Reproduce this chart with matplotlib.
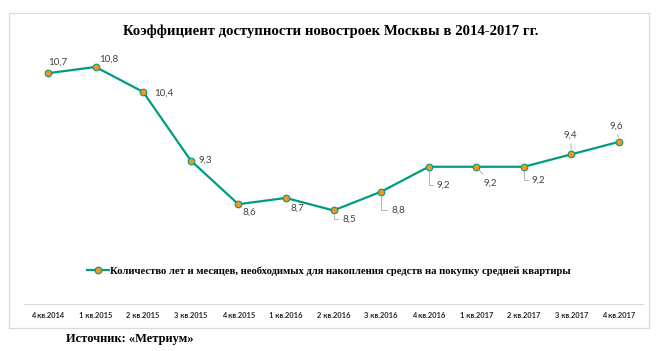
import matplotlib
matplotlib.use('Agg')
import matplotlib.pyplot as plt
from matplotlib.patches import Rectangle
from matplotlib.lines import Line2D

# данные
quarters = ['4 кв.2014', '1 кв.2015', '2 кв.2015', '3 кв.2015', '4 кв.2015',
            '1 кв.2016', '2 кв.2016', '3 кв.2016', '4 кв.2016', '1 кв.2017',
            '2 кв.2017', '3 кв.2017', '4 кв.2017']
values = [10.7, 10.8, 10.4, 9.3, 8.6, 8.7, 8.5, 8.8, 9.2, 9.2, 9.2, 9.4, 9.6]
title = 'Коэффициент доступности новостроек Москвы в 2014-2017 гг.'
series_name = 'Количество лет и месяцев, необходимых для накопления средств на покупку средней квартиры'
source = 'Источник: «Метриум»'

# смещения подписей (пиксели): dx, dy, ha, тип выноски
label_pos = [
    (10, 11, 'center', None), (13, 8, 'center', None), (11, -1, 'left', None),
    (8, 0, 'left', None), (4, -8, 'left', None), (5, -10, 'left', None),
    (9, -9, 'left', 'elbow'), (10, -18, 'left', 'elbow'), (8, -18, 'left', 'elbow'),
    (14, -16, 'center', 'line'), (8, -13, 'left', 'elbow'), (-1, 19, 'center', 'line'),
    (-3, 16, 'center', 'line'),
]

W, H = 662, 351
fig = plt.figure(figsize=(W / 100, H / 100), dpi=100)
fig.patch.set_facecolor('white')

# рамка
fig.add_artist(Rectangle((9 / W, 1 - 328 / H), 640 / W, 315 / H, transform=fig.transFigure,
                         fill=False, edgecolor='#D9D9D9', lw=0.9))

ax = fig.add_axes([24.2 / W, 1 - 304 / H, 618.6 / W, 249.5 / H])
ax.set_xlim(-0.5, len(values) - 0.5)
ax.set_ylim(7, 11)
for s in ['top', 'right', 'left']:
    ax.spines[s].set_visible(False)
ax.spines['bottom'].set_color('#D9D9D9')
ax.spines['bottom'].set_linewidth(0.8)
ax.set_yticks([])
x = list(range(len(values)))
ax.set_xticks(x)
ax.set_xticklabels(quarters, fontsize=5.4, fontweight='bold', family='Lato', color='#262626')
ax.tick_params(axis='x', length=0, pad=6)

teal = '#009B80'
orange = '#F7941D'
ax.plot(x, values, color=teal, lw=1.6, marker='o', ms=4.8, mfc=orange, mec=teal, mew=0.8,
        zorder=3, clip_on=False)

for xi, v, (dx, dy, ha, lead) in zip(x, values, label_pos):
    txt = f'{v:.1f}'.replace('.', ',')
    kw = dict(textcoords='offset pixels', xytext=(dx, dy), ha=ha, va='center',
              fontsize=7, family='Lato', color='#404040')
    if lead == 'elbow':
        kw['arrowprops'] = dict(arrowstyle='-', color='#A6A6A6', lw=0.6, shrinkA=1, shrinkB=3,
                                relpos=(0, 0.5), connectionstyle='angle,angleA=0,angleB=90,rad=0')
    elif lead == 'line':
        kw['arrowprops'] = dict(arrowstyle='-', color='#A6A6A6', lw=0.6, shrinkA=1, shrinkB=3)
    ax.annotate(txt, xy=(xi, v), **kw)

fig.text(331 / W, 1 - 31 / H, title, ha='center', va='center', family='Liberation Serif',
         fontweight='bold', fontsize=10.6, color='#000000')

handle = Line2D([], [], color=teal, lw=1.6, marker='o', ms=4.8, mfc=orange, mec=teal, mew=0.8)
fig.legend([handle], [series_name], loc='center', bbox_to_anchor=(329 / W, 1 - 271 / H),
           frameon=False, handlelength=2.0, handletextpad=0.1,
           prop=dict(family='Liberation Serif', weight='bold', size=7.7))

fig.text(66 / W, 1 - 339 / H, source, ha='left', va='center', family='Liberation Serif',
         fontweight='bold', fontsize=9, color='#000000')

fig.savefig('out.png', dpi=100, facecolor='white')
